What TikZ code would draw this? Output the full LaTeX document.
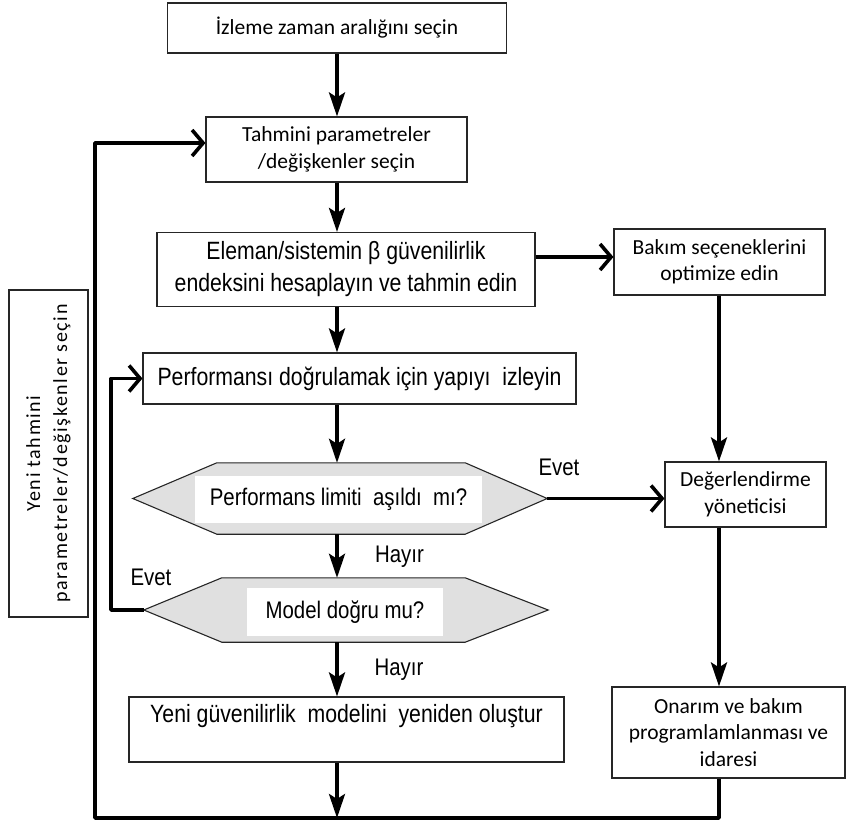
\documentclass[tikz,border=0pt]{standalone}
\usepackage{fontspec}
\setmainfont{Carlito}
\newfontfamily\arialn[FakeStretch=0.85]{Liberation Sans}
\newfontfamily\calsp[LetterSpace=8]{Carlito}
\usetikzlibrary{arrows.meta,calc}
\begin{document}
\begin{tikzpicture}[x=1pt,y=-1pt,
  box/.style={draw=black!85, line width=1.1pt, fill=white, align=center, inner sep=0pt},
  cal/.style={font=\fontsize{21.5}{26.5}\selectfont},
  ari/.style={font=\arialn\fontsize{25}{32}\selectfont},
  hexs/.style={draw=black!85, line width=1.1pt, fill=black!12},
  hext/.style={fill=white, inner sep=0pt, font=\arialn\fontsize{24}{28}\selectfont},
  flow/.style={line width=3.6pt, line join=round},
  varr/.style={flow, -{Stealth[length=24pt,width=16pt,inset=5pt]}},
  harr/.style={flow, -{Straight Barb[length=11pt,width=26pt]}},
  lab/.style={font=\arialn\fontsize{24}{28}\selectfont, inner sep=0pt}
]
\useasboundingbox (0,0) rectangle (846,826);

% boxes
\node[box,cal,minimum width=339pt,minimum height=50pt] (b1) at (337,28) {İzleme zaman aralığını seçin};
\node[box,cal,minimum width=261pt,minimum height=65pt] (b2) at (336.5,149.5) {Tahmini parametreler\\/değişkenler seçin};
\node[box,ari,minimum width=378pt,minimum height=74pt] (b3) at (346,269.5) {Eleman/sistemin β güvenilirlik\\endeksini hesaplayın ve tahmin edin};
\node[box,cal,minimum width=211pt,minimum height=66pt] (b4) at (719.5,262) {Bakım seçeneklerini\\optimize edin};
\node[box,cal,minimum width=161pt,minimum height=65pt] (b5) at (745.5,494.5) {Değerlendirme\\yöneticisi};
\node[box,cal,minimum width=233pt,minimum height=91pt] (b6) at (728.5,732.5) {Onarım ve bakım\\programlamlanması ve\\idaresi};
\node[box,ari,minimum width=433pt,minimum height=51pt] (b7) at (359.5,378.5) {Performansı doğrulamak için yapıyı~ izleyin};
\node[box,ari,minimum width=435pt,minimum height=65pt] (b8) at (346.5,729.5) {Yeni güvenilirlik~ modelini~ yeniden oluştur\\\mbox{}};
\node[box,font=\calsp\fontsize{20}{27}\selectfont,rotate=90,minimum width=327pt,minimum height=79pt] (side) at (48.5,453.5) {Yeni tahmini\\parametreler/değişkenler seçin};

% hexagons
\node[minimum width=414pt,minimum height=71pt,inner sep=0pt] (h1) at (340,498.5) {};
\draw[hexs] (h1.west) -- ([xshift=84pt]h1.north west) -- ([xshift=-82pt]h1.north east) -- (h1.east)
  -- ([xshift=-82pt]h1.south east) -- ([xshift=84pt]h1.south west) -- cycle;
\node[hext,minimum width=287pt,minimum height=47pt] (h1t) at (338.5,499.5) {Performans limiti~ aşıldı~ mı?};
\node[minimum width=404pt,minimum height=64pt,inner sep=0pt] (h2) at (346,610) {};
\draw[hexs] (h2.west) -- ([xshift=78pt]h2.north west) -- ([xshift=-83pt]h2.north east) -- (h2.east)
  -- ([xshift=-83pt]h2.south east) -- ([xshift=78pt]h2.south west) -- cycle;
\node[hext,minimum width=196pt,minimum height=48pt] (h2t) at (345,612) {Model doğru mu?};

% helper coordinates
\coordinate (ccol) at (337,0);
\coordinate (rcol) at (719,0);
\coordinate (lp1) at (95,818);
\coordinate (lp2) at (95,143);
\coordinate (ev) at (111,0);

% connectors
\draw[varr] (b1.south -| ccol) -- (b2.north -| ccol);
\draw[varr] (b2.south -| ccol) -- (b3.north -| ccol);
\draw[varr] (b3.south -| ccol) -- (b7.north -| ccol);
\draw[varr] (b7.south -| ccol) -- (h1.north -| ccol);
\draw[varr] (h1.south -| ccol) -- (h2.north -| ccol);
\draw[varr] (h2.south -| ccol) -- (b8.north -| ccol);
\draw[varr] (b8.south -| ccol) -- (ccol |- lp1);
\draw[harr] ([yshift=5pt]b3.east |- b4.west) -- ([yshift=5pt]b4.west);
\draw[varr] (b4.south -| rcol) -- (b5.north -| rcol);
\draw[varr] (b5.south -| rcol) -- (b6.north -| rcol);
\draw[harr] (h1.east) -- (h1.east -| b5.west);
\draw[harr] (b6.south -| rcol) -- (rcol |- lp1) -- (lp1) -- (lp2) -- (lp2 -| b2.west);
\draw[harr] (h2.west) -- (h2.west -| ev) -- (ev |- b7.west) -- (b7.west);

% labels
\node[lab] (l1) at (399.5,557) {Hayır};
\node[lab] (l2) at (399,670) {Hayır};
\node[lab] (l3) at (151,577) {Evet};
\node[lab] (l4) at (559,467) {Evet};
\end{tikzpicture}
\end{document}
